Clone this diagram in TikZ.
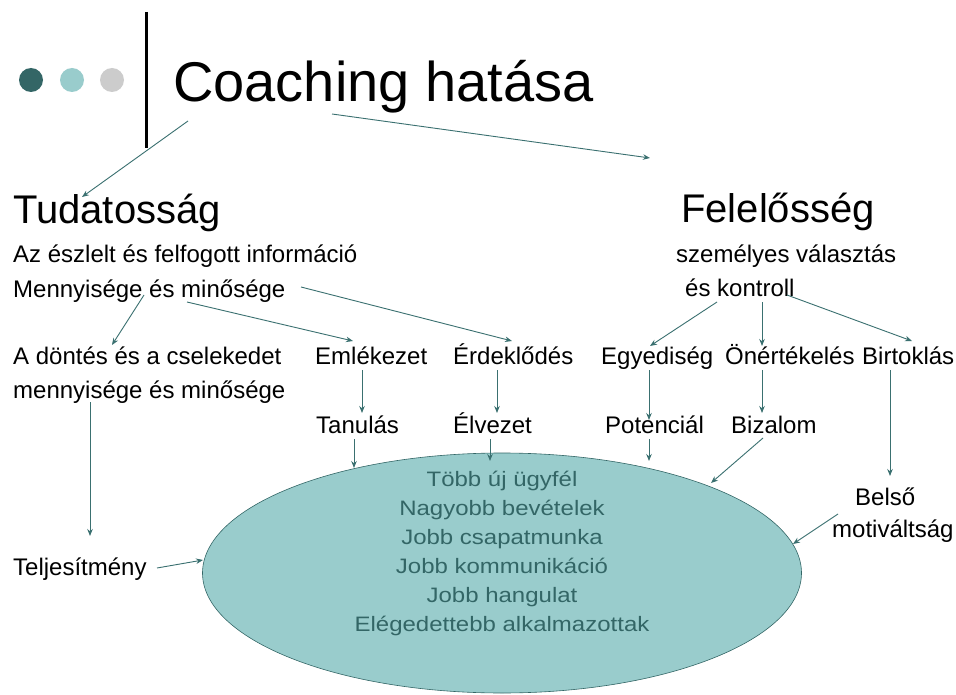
\documentclass[tikz,border=0pt]{standalone}
\usepackage{fontspec}
\setmainfont{Liberation Sans}
\usetikzlibrary{arrows.meta,shapes.geometric}
\definecolor{tealdark}{HTML}{336666}
\definecolor{teallight}{HTML}{99CCCC}
\definecolor{greydot}{HTML}{CCCCCC}
\definecolor{arrcol}{HTML}{3A7070}
\newcommand{\squash}[1]{\scalebox{1}[0.87]{#1}}
\begin{document}
\begin{tikzpicture}[x=1pt,y=-1pt,
  txt/.style={anchor=base west,inner sep=0pt,font=\fontsize{24}{28}\selectfont},
  bigtxt/.style={anchor=base west,inner sep=0pt,font=\fontsize{40}{48}\selectfont},
  intxt/.style={anchor=base,inner sep=0pt,text=tealdark,font=\fontsize{24}{28}\selectfont},
  conn/.style={draw=arrcol,line width=0.9pt,-{Stealth[length=7pt,width=5.5pt]}},
  dotnode/.style={circle,inner sep=0pt,minimum size=24pt}]
\useasboundingbox (0,0) rectangle (956,695);
\fill[white] (0,0) rectangle (956,695);

% decoration
\node[dotnode,fill=tealdark] (d1) at (31,80) {};
\node[dotnode,fill=teallight] (d2) at (72,80) {};
\node[dotnode,fill=greydot] (d3) at (112,80) {};
\draw[line width=3pt] (146.5,12) -- (146.5,148);

% title
\node[anchor=base west,inner sep=0pt,font=\fontsize{56}{64}\selectfont] (title) at (173,102) {Coaching hatása};

% ellipse
\node[ellipse,draw=tealdark,line width=0.6pt,fill=teallight,minimum width=599pt,minimum height=240pt,inner sep=0pt] (eff) at (502,573) {};
\node[intxt] (e1) at (502,486) {\squash{Több új ügyfél}};
\node[intxt] (e2) at (502,515) {\squash{Nagyobb bevételek}};
\node[intxt] (e3) at (502,544) {\squash{Jobb csapatmunka}};
\node[intxt] (e4) at (502,573) {\squash{Jobb kommunikáció}};
\node[intxt] (e5) at (502,602) {\squash{Jobb hangulat}};
\node[intxt] (e6) at (502,631) {\squash{Elégedettebb alkalmazottak}};

% headings
\node[bigtxt] (tud) at (13,224) {Tudatosság};
\node[bigtxt] (fel) at (681,223) {Felelősség};

% left texts
\node[txt] (az) at (13,262) {Az észlelt és felfogott információ};
\node[txt] (menny) at (13,297) {Mennyisége és minősége};
\node[txt] (dontes) at (13,364) {A döntés és a cselekedet};
\node[txt] (menny2) at (13,398) {mennyisége és minősége};
\node[txt] (emlek) at (315,364) {Emlékezet};
\node[txt] (erdek) at (453,364) {Érdeklődés};
\node[txt] (tanul) at (316,433) {Tanulás};
\node[txt] (elvez) at (453,433) {Élvezet};
\node[txt] (telj) at (13,575) {Teljesítmény};

% right texts
\node[txt] (szem) at (676,262) {személyes választás};
\node[txt] (kontr) at (685,296) {és kontroll};
\node[txt] (egyed) at (601,364) {Egyediség};
\node[txt] (oner) at (725,364) {Önértékelés};
\node[txt] (birt) at (862,364) {Birtoklás};
\node[txt] (pot) at (605,433) {Potenciál};
\node[txt] (biz) at (731,433) {Bizalom};
\node[txt] (bels) at (855,505) {Belső};
\node[txt] (motiv) at (832,537) {motiváltság};

% connector end points
\coordinate (t1) at (188,121);  \coordinate (t1e) at (82,197);
\coordinate (t2) at (332,114);  \coordinate (t2e) at (650,158);
\coordinate (m1) at (144,295);  \coordinate (m1e) at (112,345);
\coordinate (m2) at (187,302);  \coordinate (m2e) at (353,341);
\coordinate (m3) at (301,287);  \coordinate (m3e) at (512,341);
\coordinate (em) at (362,370);  \coordinate (eme) at (362,413);
\coordinate (er) at (497,370);  \coordinate (ere) at (497,413);
\coordinate (ta) at (354,439);  \coordinate (tae) at (354,468);
\coordinate (el) at (490,439);  \coordinate (ele) at (490,461);
\coordinate (dn) at (90,402);   \coordinate (dne) at (90,536);
\coordinate (te) at (157,568);  \coordinate (tee) at (203,560);
\coordinate (k1) at (717,302);  \coordinate (k1e) at (650,346);
\coordinate (k2) at (762,302);  \coordinate (k2e) at (762,346);
\coordinate (k3) at (787,295);  \coordinate (k3e) at (912,341);
\coordinate (eg) at (649,370);  \coordinate (ege) at (649,420);
\coordinate (on) at (762,370);  \coordinate (one) at (762,413);
\coordinate (po) at (649,439);  \coordinate (poe) at (649,461);
\coordinate (bz) at (763,438);  \coordinate (bze) at (711,483);
\coordinate (bi) at (890,370);  \coordinate (bie) at (890,476);
\coordinate (be) at (838,514);  \coordinate (bee) at (793,544);

% connectors
\draw[conn] (t1) -- (t1e);
\draw[conn] (t2) -- (t2e);
\draw[conn] (m1) -- (m1e);
\draw[conn] (m2) -- (m2e);
\draw[conn] (m3) -- (m3e);
\draw[conn] (em) -- (eme);
\draw[conn] (er) -- (ere);
\draw[conn] (ta) -- (tae);
\draw[conn] (el) -- (ele);
\draw[conn] (dn) -- (dne);
\draw[conn] (te) -- (tee);
\draw[conn] (k1) -- (k1e);
\draw[conn] (k2) -- (k2e);
\draw[conn] (k3) -- (k3e);
\draw[conn] (eg) -- (ege);
\draw[conn] (on) -- (one);
\draw[conn] (po) -- (poe);
\draw[conn] (bz) -- (bze);
\draw[conn] (bi) -- (bie);
\draw[conn] (be) -- (bee);
\end{tikzpicture}
\end{document}
